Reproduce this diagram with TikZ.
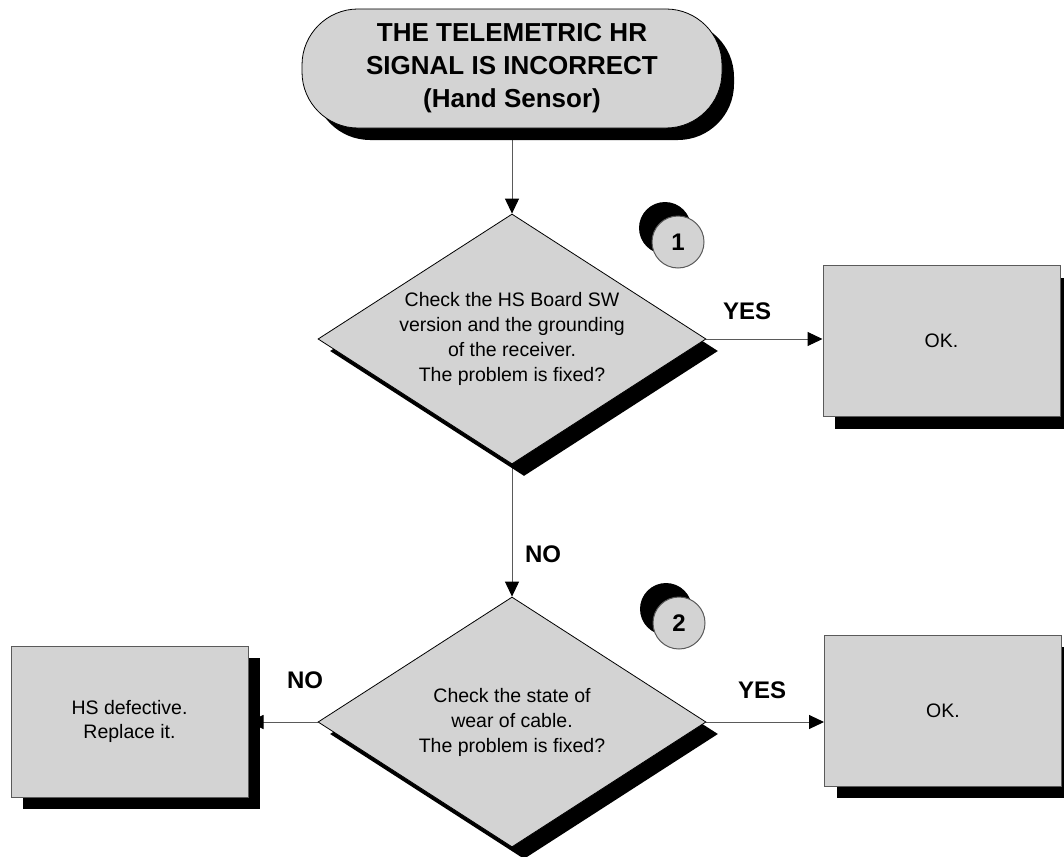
\documentclass[tikz,border=0pt]{standalone}
\usepackage{fontspec}
\setmainfont{Liberation Sans}
\usetikzlibrary{shapes.geometric,shadows,arrows.meta,backgrounds}
\definecolor{boxgray}{RGB}{211,211,211}
\definecolor{edgegray}{RGB}{90,90,90}
\begin{document}
\begin{tikzpicture}[x=1pt,y=-1pt,
  blackshade/.style={drop shadow={shadow xshift=12pt,shadow yshift=-12pt,fill=black,opacity=1}},
  termbox/.style={rectangle, rounded corners=56pt, draw=black, line width=0.8pt, fill=boxgray,
    minimum width=420pt, minimum height=119pt, align=center,
    font=\bfseries\fontsize{26}{33}\selectfont, blackshade},
  askbox/.style={diamond, aspect=1.54, draw=black, line width=0.8pt, fill=boxgray,
    minimum width=388pt, minimum height=250pt, inner sep=0pt, align=center,
    font=\fontsize{19.5}{25}\selectfont, blackshade},
  endbox/.style={rectangle, draw=edgegray, line width=1pt, fill=boxgray,
    minimum width=237pt, minimum height=151pt, align=center,
    font=\fontsize{19.5}{24}\selectfont, blackshade},
  numdisc/.style={circle, draw=edgegray, line width=1pt, fill=boxgray, minimum size=52pt, inner sep=0pt,
    font=\bfseries\fontsize{24}{24}\selectfont,
    drop shadow={shadow xshift=-13pt,shadow yshift=14pt,fill=black,opacity=1}},
  lbl/.style={font=\bfseries\fontsize{24}{24}\selectfont},
  flow/.style={draw=edgegray, line width=1pt, -{Triangle[length=15pt,width=14pt,black]}}]
\useasboundingbox (0,0) rectangle (1064,856);
% shapes
\node[termbox] (start) at (512,68.5) {THE TELEMETRIC HR\\SIGNAL IS INCORRECT\\(Hand Sensor)};
\node[askbox] (d1) at (512,339) {Check the HS Board SW\\version and the grounding\\of the receiver.\\The problem is fixed?};
\node[askbox] (d2) at (512,722) {Check the state of\\wear of cable.\\The problem is fixed?};
\node[endbox] (b1) at (941.5,341) {OK.};
\node[endbox] (b2) at (943,710.5) {OK.};
\node[endbox] (b3) at (129.5,721.5) {HS defective.\\Replace it.};
\node[numdisc] (n1) at (678,242) {1};
\node[numdisc] (n2) at (679,623) {2};
% labels
\node[lbl] (yes1) at (747,311) {YES};
\node[lbl] (no1) at (543,554) {NO};
\node[lbl] (no2) at (305,680) {NO};
\node[lbl] (yes2) at (762,690) {YES};
% connectors
\begin{scope}[on background layer]
\draw[flow] (start.south) -- (d1.north);
\draw[flow] (d1.east) -- (d1.east -| b1.west);
\draw[flow] (d1.south) -- (d2.north);
\draw[flow] (d2.east) -- (d2.east -| b2.west);
\draw[flow] (d2.west) -- (d2.west -| b3.east);
\end{scope}
\end{tikzpicture}
\end{document}
